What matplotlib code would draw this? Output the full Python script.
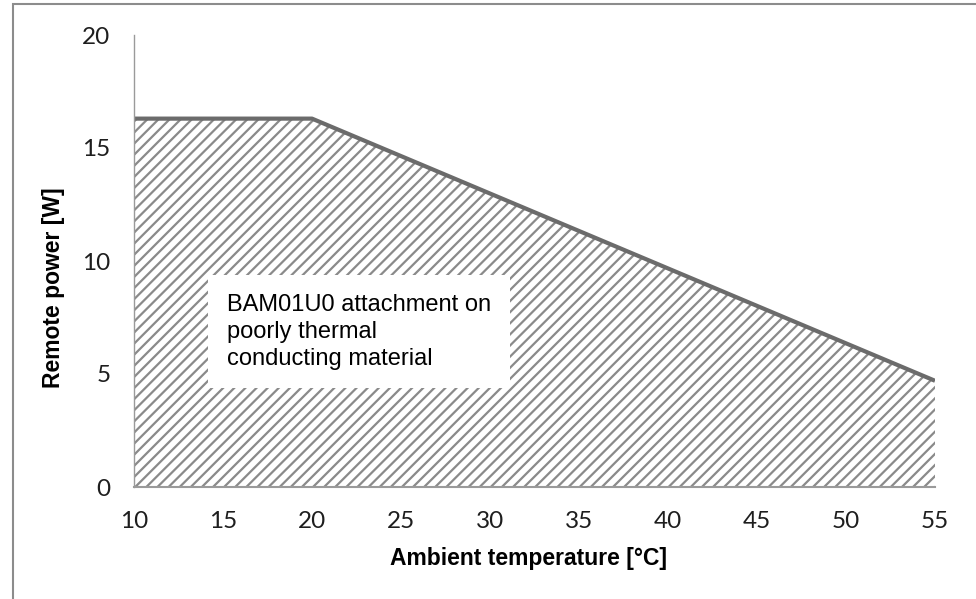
import matplotlib.pyplot as plt
from matplotlib.patches import Rectangle

# derating curve
temp_c = [10, 20, 55]
power_w = [16.3, 16.3, 4.7]
x_ticks = [10, 15, 20, 25, 30, 35, 40, 45, 50, 55]
y_ticks = [0, 5, 10, 15, 20]
note = 'BAM01U0 attachment on\npoorly thermal\nconducting material'

plt.rcParams['hatch.color'] = '#8a8a8a'
plt.rcParams['hatch.linewidth'] = 1.6

fig = plt.figure(figsize=(9.76, 5.99), dpi=100)
ax = fig.add_axes([134 / 976, 112 / 599, 801 / 976, 452 / 599])

# hatched area under the curve
ax.fill_between(temp_c, power_w, 0, facecolor='white', edgecolor='none',
                hatch='///', linewidth=0)
ax.plot(temp_c, power_w, color='#6b6b6b', linewidth=3, solid_capstyle='butt')

ax.set_xlim(10, 55)
ax.set_ylim(0, 20)
ax.set_xticks(x_ticks)
ax.set_yticks(y_ticks)
ax.tick_params(length=0, labelsize=17.5, colors='#1e1e1e')
ax.tick_params(axis='x', pad=17)
ax.tick_params(axis='y', pad=17)
for lbl in ax.get_xticklabels() + ax.get_yticklabels():
    lbl.set_family('Lato')

for side in ['top', 'right']:
    ax.spines[side].set_visible(False)
ax.spines['left'].set_color('#9a9a9a')
ax.spines['bottom'].set_color('#9a9a9a')
ax.spines['left'].set_linewidth(1)
ax.spines['bottom'].set_linewidth(1.5)

ax.set_xlabel('Ambient temperature [°C]', fontsize=16.5, fontweight='bold',
              family='Liberation Sans')
ax.set_ylabel('Remote power [W]', fontsize=16.5, fontweight='bold',
              family='Liberation Sans')
ax.xaxis.set_label_coords(0.493, -0.132)
ax.yaxis.set_label_coords(-0.086, 0.442)

# white note box
ax.text(15.22, 6.86, note, fontsize=17, family='Liberation Sans',
        va='center', ha='left', linespacing=1.27,
        bbox=dict(boxstyle='square,pad=0.8', facecolor='white', edgecolor='none'))

# outer frame of the chart area
fig.patches.append(Rectangle((13 / 976, -0.1), 1.2, (595 / 599) + 0.1,
                             transform=fig.transFigure, fill=False,
                             edgecolor='#8c8c8c', linewidth=1.5))

fig.savefig('out.png', dpi=100)
